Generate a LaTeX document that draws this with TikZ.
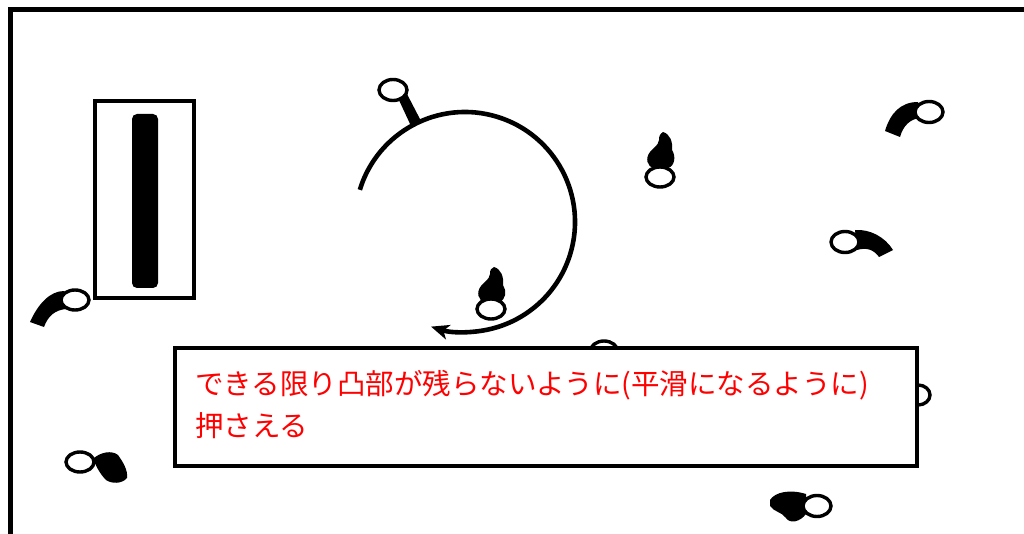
\documentclass[tikz,border=0pt]{standalone}
\usepackage{fontspec}
\newfontfamily\jpfont{Noto Sans CJK JP}
\usetikzlibrary{arrows.meta}
\definecolor{notered}{RGB}{255,0,0}
\begin{document}
\begin{tikzpicture}[x=1pt,y=-1pt,
  ring/.style={draw, line width=3.4pt, fill=white},
  solid/.style={fill=black, draw=none},
  notebox/.style={draw, line width=4.2pt, fill=white, inner sep=0pt}]
\useasboundingbox (0,0) rectangle (1024,534);
\fill[white] (0,0) rectangle (1024,534);
% outer frame (runs off the page at right and bottom)
\draw[line width=4.5pt] (10.5,560) -- (10.5,9.5) -- (1060,9.5);

% holder with the bar
\node[draw, line width=3.4pt, minimum width=99pt, minimum height=197pt, inner sep=0pt] (holder) at (144.5,199.5) {};
\node[solid, rounded corners=5pt, minimum width=26pt, minimum height=174pt, inner sep=0pt] (bar) at (145,201) {};

% pressing motion
\coordinate (c) at (465,222);
\draw[line width=4.6pt, -{Stealth[length=18pt,width=15pt,inset=5pt]}] (c) ++(197:110) arc[start angle=197, end angle=468, radius=110] coordinate (tip);

% pin on the arc
\fill (398,98) -- (407,94) -- (421,121) -- (411,126) -- cycle;
\draw[ring] (393,90) ellipse[x radius=14, y radius=10.5];

% blob pins
\fill (663,132) .. controls (670,134) and (673,142) .. (672,150) .. controls (676,156) and (675,166) .. (668,168) -- (654,168) .. controls (647,167) and (645,158) .. (650,152) .. controls (654,147) and (658,146) .. (659,140) .. controls (659,136) and (660,134) .. cycle;
\draw[ring] (660,177) ellipse[x radius=14, y radius=10];

\fill (494,267) .. controls (501,269) and (504,277) .. (503,285) .. controls (507,291) and (506,300) .. (499,302) -- (485,302) .. controls (478,301) and (476,292) .. (481,286) .. controls (485,281) and (489,280) .. (490,274) .. controls (490,270) and (491,268) .. cycle;
\draw[ring] (491,309) ellipse[x radius=14, y radius=10];

% curved-band pins
\fill (918,102) .. controls (900,102) and (890,114) .. (885,131) -- (900,137) .. controls (903,126) and (910,119) .. (920,118) -- cycle;
\draw[ring] (929,112) ellipse[x radius=14, y radius=10.5];

\fill (855,230) .. controls (870,229) and (885,237) .. (893,250) -- (879,257) .. controls (874,250) and (867,247) .. (857,250) -- cycle;
\draw[ring] (845,242) ellipse[x radius=14, y radius=10.5];

\fill (64,291) .. controls (50,291) and (38,304) .. (30,322) -- (44,327) .. controls (48,316) and (55,310) .. (66,309) -- cycle;
\draw[ring] (75,300) ellipse[x radius=14, y radius=10];

% mitten pins
\fill (93,459) .. controls (100,452) and (112,450) .. (118,455) .. controls (123,462) and (128,470) .. (127,478) .. controls (122,484) and (112,484) .. (106,480) .. controls (100,474) and (96,466) .. cycle;
\draw[ring] (80,462) ellipse[x radius=14, y radius=10];

\fill (770,500) .. controls (775,492) and (790,489) .. (806,494) -- (806,514) .. controls (800,522) and (790,524) .. (786,518) .. controls (782,512) and (774,512) .. (770,506) -- cycle;
\draw[ring] (817,506) ellipse[x radius=14, y radius=10.5];

% pins partly hidden behind the note
\draw[ring] (604,352) ellipse[x radius=14, y radius=11];
\draw[ring] (918,395) ellipse[x radius=12, y radius=10];

% note
\node[notebox, minimum width=742pt, minimum height=118pt] (note) at (546,407) {};
\node[anchor=base west, inner sep=0pt, align=left, text=notered,
      font=\jpfont\fontsize{28.5}{42}\selectfont] (notetext) at (195,436)
  {できる限り凸部が残らないように(平滑になるように)\\押さえる};
\end{tikzpicture}
\end{document}
